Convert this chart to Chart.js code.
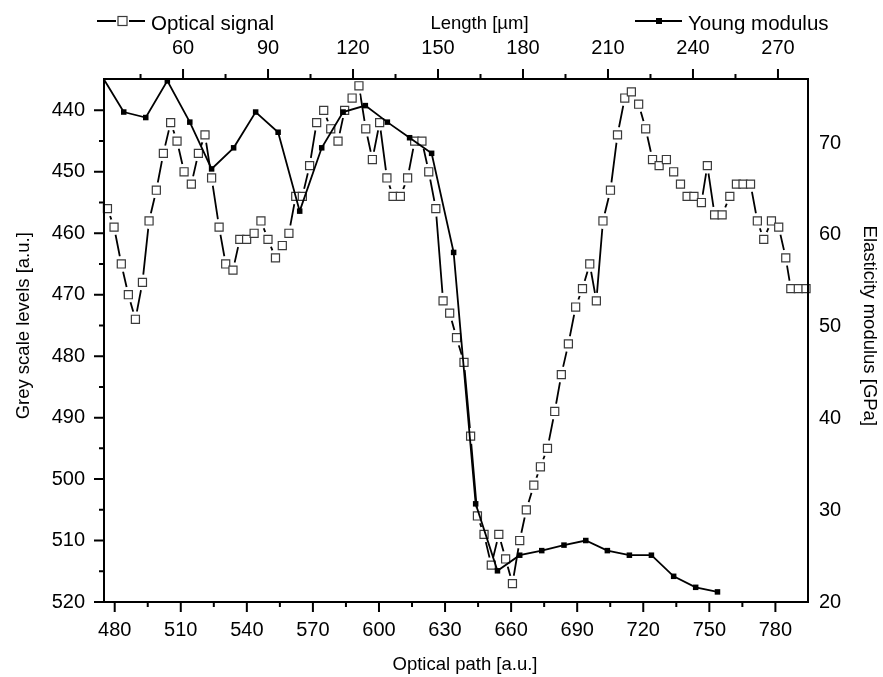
<!DOCTYPE html>
<html><head><meta charset="utf-8">
<script src="https://cdn.jsdelivr.net/npm/chart.js@4.4.1/dist/chart.umd.min.js"></script>
<style>html,body{margin:0;padding:0;background:#fff}canvas{display:block}</style>
</head><body>
<canvas id="c" width="883" height="677"></canvas>
<script>
// ---- data ----
const opticalPath = [476.7,479.7,483.0,486.2,489.4,492.6,495.6,498.9,502.1,505.4,508.3,511.5,514.8,518.0,521.0,524.0,527.4,530.4,533.7,536.8,539.9,543.3,546.4,549.6,553.0,556.1,559.1,562.2,565.2,568.5,571.7,574.9,578.1,581.4,584.4,587.8,590.9,594.0,597.0,600.3,603.6,606.4,609.7,613.0,616.2,619.5,622.6,625.8,629.1,632.1,635.2,638.6,641.6,644.7,647.7,651.0,654.4,657.5,660.6,663.9,666.9,670.3,673.3,676.5,679.8,682.8,686.0,689.3,692.4,695.7,698.7,701.7,705.1,708.3,711.6,714.6,717.9,721.1,724.2,727.2,730.5,733.8,736.9,739.9,743.0,746.4,749.1,752.4,755.8,759.3,762.3,765.3,768.7,771.8,774.7,778.2,781.5,784.7,787.0,790.4,793.9];
const greyLevels = [456,459,465,470,474,468,458,453,447,442,445,450,452,447,444,451,459,465,466,461,461,460,458,461,464,462,460,454,454,449,442,440,443,445,440,438,436,443,448,442,451,454,454,451,445,445,450,456,471,473,477,481,493,506,509,514,509,513,517,510,505,501,498,495,489,483,478,472,469,465,471,458,453,444,438,437,439,443,448,449,448,450,452,454,454,455,449,457,457,454,452,452,452,458,461,458,459,464,469,469,469];
const youngPath = [474.0,484.1,494.1,503.9,514.1,524.0,534.0,544.0,554.2,564.0,574.0,583.7,593.8,603.8,613.9,623.9,633.9,643.9,653.8,663.9,673.9,684.0,693.9,703.7,713.7,723.7,733.8,743.8,753.7];
const youngModulus = [77.4,73.4,72.8,76.8,72.3,67.2,69.5,73.4,71.2,62.6,69.5,73.4,74.1,72.3,70.6,68.9,58.1,30.7,23.4,25.1,25.6,26.2,26.7,25.6,25.1,25.1,22.8,21.6,21.1];

// ---- tick labels ----
const pathTicks = [480,510,540,570,600,630,660,690,720,750,780];
const pathMinor = [495,525,555,585,615,645,675,705,735,765];
const lengthTicks = [60,90,120,150,180,210,240,270];
const lengthMinor = [45,75,105,135,165,195,225,255];
const greyTicks = [440,450,460,470,480,490,500,510,520];
const greyMinor = [445,455,465,475,485,495,505,515];
const modulusTicks = [20,30,40,50,60,70];

const FONT = "'Liberation Sans', Arial, sans-serif";
Chart.defaults.font.family = FONT;
Chart.defaults.color = '#000';

const opticalPts = opticalPath.map((x, i) => ({x, y: greyLevels[i]}));
const youngPts = youngPath.map((x, i) => ({x, y: youngModulus[i]}));

const setTicks = arr => scale => { scale.ticks = arr.map(v => ({value: v})); };
const fixSize = (prop, v) => scale => { scale[prop] = v; };
const tickFont = {size: 20};

const framePlugin = {
  id: 'frame',
  afterDatasetsDraw(chart) {
    const {ctx, chartArea: a, scales} = chart;
    ctx.save();
    ctx.strokeStyle = '#000';
    ctx.lineWidth = 2;
    ctx.beginPath();
    ctx.rect(a.left, a.top, a.right - a.left, a.bottom - a.top);
    ctx.stroke();
    ctx.beginPath();
    const tick = (x1, y1, x2, y2) => { ctx.moveTo(x1, y1); ctx.lineTo(x2, y2); };
    pathTicks.forEach(v => { const x = scales.x.getPixelForValue(v); tick(x, a.bottom, x, a.bottom + 10); });
    pathMinor.forEach(v => { const x = scales.x.getPixelForValue(v); tick(x, a.bottom, x, a.bottom + 5); });
    lengthTicks.forEach(v => { const x = scales.x2.getPixelForValue(v); tick(x, a.top, x, a.top - 10); });
    lengthMinor.forEach(v => { const x = scales.x2.getPixelForValue(v); tick(x, a.top, x, a.top - 5); });
    greyTicks.forEach(v => { const y = scales.y.getPixelForValue(v); tick(a.left, y, a.left - 10, y); });
    greyMinor.forEach(v => { const y = scales.y.getPixelForValue(v); tick(a.left, y, a.left - 5, y); });
    ctx.stroke();
    ctx.restore();
  },
  afterDraw(chart) {
    const {ctx} = chart;
    ctx.save();
    ctx.fillStyle = '#000';
    ctx.strokeStyle = '#000';
    // legend: optical signal
    ctx.lineWidth = 2;
    ctx.beginPath();
    ctx.moveTo(97, 21); ctx.lineTo(116, 21);
    ctx.moveTo(129, 21); ctx.lineTo(145, 21);
    ctx.stroke();
    ctx.fillStyle = '#fff';
    ctx.fillRect(118, 16.5, 9, 9);
    ctx.lineWidth = 1.2;
    ctx.strokeStyle = '#3a3a3a';
    ctx.strokeRect(118, 16.5, 9, 9);
    ctx.fillStyle = '#000';
    ctx.strokeStyle = '#000';
    ctx.font = '20.5px ' + FONT;
    ctx.textBaseline = 'alphabetic';
    ctx.textAlign = 'left';
    ctx.fillText('Optical signal', 151, 29.5);
    // legend: young modulus
    ctx.lineWidth = 2;
    ctx.beginPath();
    ctx.moveTo(635, 21); ctx.lineTo(682, 21);
    ctx.stroke();
    ctx.fillRect(656, 18, 6, 6);
    ctx.fillText('Young modulus', 688, 29.5);
    // top axis title
    ctx.font = '18.5px ' + FONT;
    ctx.textAlign = 'center';
    ctx.fillText('Length [\u00b5m]', 479.5, 29);
    // bottom axis title
    ctx.fillText('Optical path [a.u.]', 465, 670);
    // left axis title
    ctx.save();
    ctx.translate(29.4, 325.8);
    ctx.rotate(-Math.PI / 2);
    ctx.fillText('Grey scale levels [a.u.]', 0, 0);
    ctx.restore();
    // right axis title
    ctx.save();
    ctx.translate(864, 325.8);
    ctx.rotate(Math.PI / 2);
    ctx.fillText('Elasticity modulus [GPa]', 0, 0);
    ctx.restore();
    ctx.restore();
  }
};

new Chart(document.getElementById('c'), {
  type: 'line',
  data: {
    datasets: [
      {label: 'Young modulus', data: youngPts, xAxisID: 'x', yAxisID: 'y2',
       borderColor: '#000', borderWidth: 1.8, tension: 0,
       pointStyle: 'rect', pointRadius: 3.9, pointBackgroundColor: '#000', pointBorderWidth: 0, clip: 0},
      {label: 'Optical markers', data: opticalPts, xAxisID: 'x', yAxisID: 'y', showLine: false,
       pointStyle: 'rect', pointRadius: 5.7, pointBackgroundColor: '#fff', pointBorderColor: '#3a3a3a', pointBorderWidth: 1.2, clip: false},
      {label: 'Optical gaps', data: opticalPts, xAxisID: 'x', yAxisID: 'y', showLine: false,
       pointStyle: 'circle', pointRadius: 8, pointBackgroundColor: '#fff', pointBorderColor: '#fff', pointBorderWidth: 0, clip: 0},
      {label: 'Optical signal', data: opticalPts, xAxisID: 'x', yAxisID: 'y',
       borderColor: '#000', borderWidth: 1.8, tension: 0, pointRadius: 0, clip: false}
    ]
  },
  options: {
    responsive: false,
    animation: false,
    events: [],
    layout: {padding: 0},
    plugins: {legend: {display: false}, tooltip: {enabled: false}},
    scales: {
      x: {type: 'linear', position: 'bottom', min: 475.14, max: 794.8,
          grid: {display: false, drawTicks: false}, border: {display: false},
          ticks: {font: tickFont, padding: 16, maxRotation: 0, autoSkip: false},
          afterBuildTicks: setTicks(pathTicks), afterFit: fixSize('height', 75)},
      x2: {type: 'linear', position: 'top', min: 32.1, max: 280.6,
          grid: {display: false, drawTicks: false}, border: {display: false},
          ticks: {font: tickFont, padding: 19, maxRotation: 0, autoSkip: false},
          afterBuildTicks: setTicks(lengthTicks), afterFit: fixSize('height', 79)},
      y: {type: 'linear', position: 'left', reverse: true, min: 434.9, max: 520,
          grid: {display: false, drawTicks: false}, border: {display: false},
          ticks: {font: tickFont, padding: 19, autoSkip: false},
          afterBuildTicks: setTicks(greyTicks), afterFit: fixSize('width', 104)},
      y2: {type: 'linear', position: 'right', min: 20, max: 77,
          grid: {display: false, drawTicks: false}, border: {display: false},
          ticks: {font: tickFont, padding: 11, autoSkip: false},
          afterBuildTicks: setTicks(modulusTicks), afterFit: fixSize('width', 75)}
    }
  },
  plugins: [framePlugin]
});
</script>
</body></html>
